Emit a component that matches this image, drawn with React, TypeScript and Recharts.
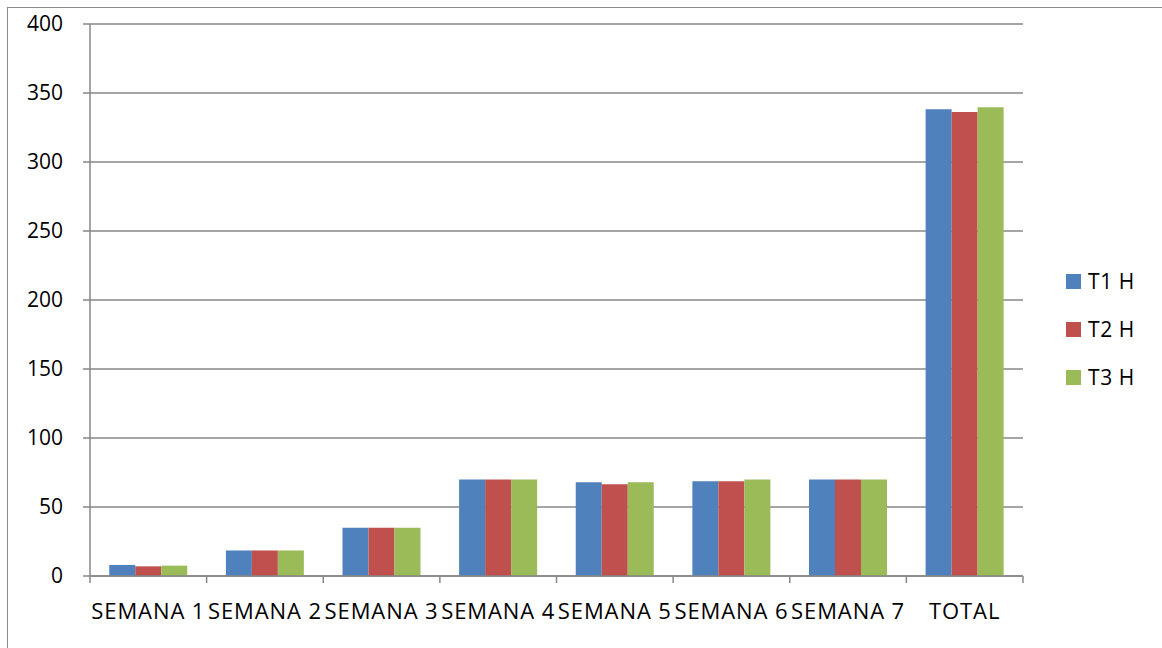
import React from 'react';
import { BarChart, Bar, XAxis, YAxis, CartesianGrid } from 'recharts';

// weekly hours per group
const CATEGORIES = ['SEMANA 1', 'SEMANA 2', 'SEMANA 3', 'SEMANA 4', 'SEMANA 5', 'SEMANA 6', 'SEMANA 7', 'TOTAL'];
const T1_H = [8, 18.5, 35, 70, 68, 68.6, 70, 338.2];
const T2_H = [7, 18.5, 35, 70, 66.4, 68.6, 70, 336.2];
const T3_H = [7.5, 18.5, 35, 70, 68, 70, 70, 339.6];
const Y_TICKS = [0, 50, 100, 150, 200, 250, 300, 350, 400];

const SERIES = [
  { key: 't1', name: 'T1 H', color: '#4F81BD' },
  { key: 't2', name: 'T2 H', color: '#C0504D' },
  { key: 't3', name: 'T3 H', color: '#9BBB59' }
];

const W = 1162;
const H = 648;
const LEFT = 90;
const RIGHT = 139;
const PLOT_W = W - LEFT - RIGHT;
const AXIS_GREY = '#878787';
const FONT = '"Open Sans", "Liberation Sans", sans-serif';

const data = CATEGORIES.map((name, i) => ({ name, t1: T1_H[i], t2: T2_H[i], t3: T3_H[i] }));

// Excel puts the category ticks between the groups, so draw them ourselves
function CategoryTick(props: any) {
  const { x, y, payload, index } = props;
  const step = PLOT_W / CATEGORIES.length;
  return (
    <g>
      <line x1={x - step / 2} x2={x - step / 2} y1={y} y2={y + 7} stroke={AXIS_GREY} strokeWidth={1.5} />
      {index === CATEGORIES.length - 1 && (
        <line x1={x + step / 2} x2={x + step / 2} y1={y} y2={y + 7} stroke={AXIS_GREY} strokeWidth={1.5} />
      )}
      <text
        x={x}
        y={y + 43}
        textAnchor="middle"
        fill="#000"
        fontSize={22}
        letterSpacing={0.9}
        fontFamily={FONT}
      >
        {payload.value}
      </text>
    </g>
  );
}

export default function App() {
  return (
    <div style={{ position: 'absolute', left: 0, top: 0, width: W, height: H, overflow: 'hidden', background: '#fff' }}>
      <div
        style={{
          position: 'absolute',
          left: 7,
          top: 7,
          width: W - 7,
          height: H - 7,
          borderLeft: '1.5px solid #8c8c8c',
          borderTop: '1.5px solid #8c8c8c',
          boxSizing: 'border-box'
        }}
      />
      <div style={{ position: 'absolute', left: 0, top: 0 }}>
        <BarChart
          width={W}
          height={H}
          data={data}
          margin={{ top: 24, right: RIGHT, bottom: 0, left: 0 }}
          barCategoryGap="16.5%"
          barGap={0}
        >
          <CartesianGrid vertical={false} stroke={AXIS_GREY} strokeWidth={1.5} />
          <XAxis
            dataKey="name"
            height={72}
            interval={0}
            tickLine={false}
            tickSize={0}
            tickMargin={0}
            axisLine={{ stroke: AXIS_GREY, strokeWidth: 1.5 }}
            tick={<CategoryTick />}
          />
          <YAxis
            width={LEFT}
            domain={[0, 400]}
            ticks={Y_TICKS}
            interval={0}
            tickSize={7}
            tickMargin={20}
            tickLine={{ stroke: AXIS_GREY, strokeWidth: 1.5 }}
            axisLine={{ stroke: AXIS_GREY, strokeWidth: 1.5 }}
            tick={{ fill: '#000', fontSize: 21, fontFamily: FONT }}
          />
          {SERIES.map((s) => (
            <Bar key={s.key} dataKey={s.key} name={s.name} fill={s.color} isAnimationActive={false} />
          ))}
        </BarChart>
      </div>
      <div style={{ position: 'absolute', left: 1066, top: 257, fontFamily: FONT, fontSize: 21, letterSpacing: 0.6, color: '#000' }}>
        {SERIES.map((s) => (
          <div key={s.key} style={{ display: 'flex', alignItems: 'center', height: 48 }}>
            <span style={{ width: 15, height: 15, background: s.color, marginRight: 7, display: 'inline-block' }} />
            <span>{s.name}</span>
          </div>
        ))}
      </div>
    </div>
  );
}
